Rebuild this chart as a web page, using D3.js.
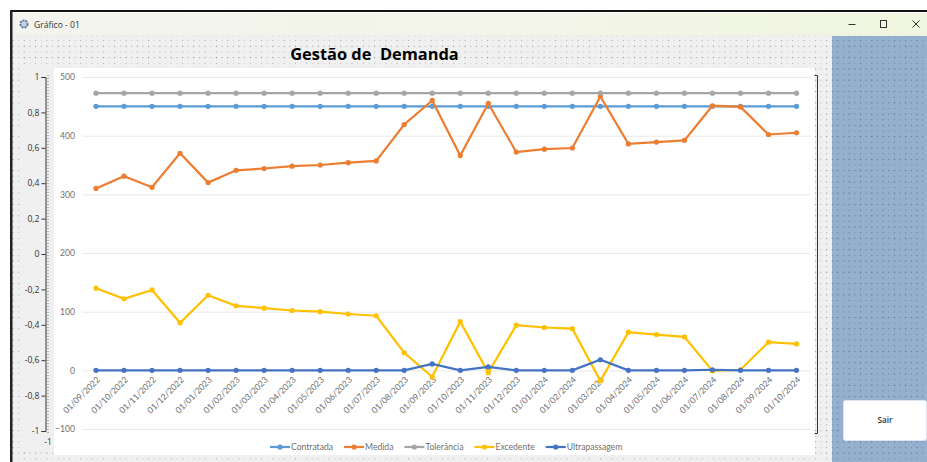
<!DOCTYPE html>
<html><head><meta charset="utf-8">
<script src="https://cdn.jsdelivr.net/npm/d3@7/dist/d3.min.js"></script>
<style>html,body{margin:0;padding:0;background:#fff;overflow:hidden}svg{display:block}text{font-family:"Open Sans",sans-serif}.lato text,text.lato{font-family:Lato,sans-serif}</style>
</head><body><svg id="c" width="927" height="462"></svg>
<script>
const categories=["01/09/2022","01/10/2022","01/11/2022","01/12/2022","01/01/2023","01/02/2023","01/03/2023","01/04/2023","01/05/2023","01/06/2023","01/07/2023","01/08/2023","01/09/2023","01/10/2023","01/11/2023","01/12/2023","01/01/2024","01/02/2024","01/03/2024","01/04/2024","01/05/2024","01/06/2024","01/07/2024","01/08/2024","01/09/2024","01/10/2024"];
const contratada=[450,450,450,450,450,450,450,450,450,450,450,450,450,450,450,450,450,450,450,450,450,450,450,450,450,450];
const medida=[310,331,312,370,320,341,344,348,350,354,357,419,460,366,455,372,377,379,467,386,389,392,451,449,402,405];
const tolerancia=[472.5,472.5,472.5,472.5,472.5,472.5,472.5,472.5,472.5,472.5,472.5,472.5,472.5,472.5,472.5,472.5,472.5,472.5,472.5,472.5,472.5,472.5,472.5,472.5,472.5,472.5];
const excedente=[140,122,137,81,128,110,106,102,100,96,93,30,-11,83,-4,77,73,71,-18,65,61,57,-1,1,48,45];
const ultrapassagem=[0,0,0,0,0,0,0,0,0,0,0,0,11,0,6,0,0,0,18,0,0,0,1,0,0,0];
const seriesNames=["Contratada","Medida","Toler\u00e2ncia","Excedente","Ultrapassagem"];
const seriesValues=[contratada,medida,tolerancia,excedente,ultrapassagem];
const seriesColors=["#5B9BD5","#ED7D31","#A5A5A5","#FFC000","#4472C4"];
const yTicks=[-100,0,100,200,300,400,500];
const leftTicks=[1,0.8,0.6,0.4,0.2,0,-0.2,-0.4,-0.6,-0.8,-1];

const svg=d3.select("#c");
const defs=svg.append("defs");
function dots(id,c1,c2,c3,bg){
  const s=5.65;
  const p=defs.append("pattern").attr("id",id).attr("patternUnits","userSpaceOnUse")
    .attr("x",1.2).attr("y",0.6).attr("width",s*2).attr("height",s*2);
  p.append("rect").attr("width",s*2).attr("height",s*2).attr("fill",bg);
  [[0,0,c1],[s,0,c2],[0,s,c2],[s,s,c3]].forEach(d=>
    p.append("rect").attr("x",d[0]).attr("y",d[1]).attr("width",1).attr("height",1).attr("fill",d[2]));
}
dots("dg","#7d7d7d","#a8a8a8","#cfcfcf","#f0f0f0");
dots("db","#4a5a70","#5f7390","#7d94b2","#95afce");
const tb=defs.append("linearGradient").attr("id","tb");
tb.append("stop").attr("offset","0").attr("stop-color","#f3f4ee");
tb.append("stop").attr("offset","0.7").attr("stop-color","#f2f5e6");
tb.append("stop").attr("offset","1").attr("stop-color","#eff5de");

// window
svg.append("rect").attr("x",12).attr("y",35).attr("width",915).attr("height",427).attr("fill","url(#dg)");
svg.append("rect").attr("x",21).attr("y",67).attr("width",33).attr("height",385).attr("fill","#f0f0f0");
svg.append("rect").attr("x",832).attr("y",36).attr("width",95).attr("height",426).attr("fill","url(#db)");
svg.append("rect").attr("x",12).attr("y",13).attr("width",915).attr("height",22.5).attr("fill","url(#tb)");
svg.append("rect").attr("x",10).attr("y",10).attr("width",917).attr("height",2).attr("fill","#111");
svg.append("rect").attr("x",10).attr("y",10).attr("width",2.5).attr("height",452).attr("fill","#222");
svg.append("circle").attr("cx",24).attr("cy",24).attr("r",3.6).attr("fill","#c4d2e8").attr("stroke","#5a6f96").attr("stroke-width",1.8).attr("stroke-dasharray","2 1");
svg.append("text").attr("x",34).attr("y",27.5).attr("font-size",8.6).attr("fill","#333").text("Gr\u00e1fico - 01");
const wb=svg.append("g").attr("stroke","#333").attr("fill","none").attr("stroke-width",1);
wb.append("path").attr("d","M848.5 24.5H855.5");
wb.append("rect").attr("x",880.5).attr("y",20.5).attr("width",6).attr("height",7);
wb.append("path").attr("d","M912.5 20.5L919.5 27.5M919.5 20.5L912.5 27.5");

// title
svg.append("text").attr("x",374.5).attr("y",59.5).attr("text-anchor","middle").attr("font-size",16.4).attr("font-weight",700).attr("fill","#000").style("white-space","pre").text("Gest\u00e3o de  Demanda");

// left designer axis
const yL=d3.scaleLinear().domain([-1,1]).range([431,77]);
const la=svg.append("g").attr("transform","translate(45.5,0)")
  .call(d3.axisLeft(yL).tickValues(leftTicks).tickSize(4).tickFormat(d=>String(d).replace(".",",")));
la.selectAll("text").attr("font-size",8.6).attr("fill","#333").attr("dx",1);
la.selectAll("line,path").attr("stroke","#333");
svg.append("line").attr("x1",48).attr("x2",48).attr("y1",75).attr("y2",434).attr("stroke","#777").attr("stroke-dasharray","1 2");
svg.append("text").attr("x",48).attr("y",445).attr("text-anchor","middle").attr("font-size",8.6).attr("fill","#333").text("-1");

// white chart area + right bracket
svg.append("rect").attr("x",54).attr("y",68).attr("width",761).attr("height",387).attr("fill","#fff");
svg.append("path").attr("d","M814.5 75.5H817.5V433.5H814.5").attr("fill","none").attr("stroke","#333");

// scales
const x=d3.scalePoint().domain(categories).range([96,796.5]);
const y=d3.scaleLinear().domain([-100,500]).range([429,77]);

// grid and axes
const ga=svg.append("g").attr("class","lato").attr("transform","translate(82,0)")
  .call(d3.axisLeft(y).tickValues(yTicks).tickSize(-729).tickPadding(7));
ga.select(".domain").remove();
ga.selectAll("line").attr("stroke","#e9e9e9");
ga.selectAll("text").attr("font-size",8.6).attr("fill","#6f6f6f");

const xa=svg.append("g").attr("class","lato").attr("transform",`translate(0,${y(0)})`)
  .call(d3.axisBottom(x).tickSize(0).tickPadding(0));
xa.select(".domain").remove();
xa.selectAll("text").attr("font-size",8.6).attr("fill","#6f6f6f")
  .attr("text-anchor","end").attr("dy",0).attr("y",0)
  .attr("transform","translate(4,10) rotate(-45)");

// series
const line=d3.line().x((d,i)=>x(categories[i])).y(d=>y(d));
seriesValues.forEach((vals,s)=>{
  const g=svg.append("g");
  g.append("path").attr("d",line(vals)).attr("fill","none").attr("stroke",seriesColors[s]).attr("stroke-width",2.2);
  g.selectAll("circle").data(vals).join("circle")
    .attr("cx",(d,i)=>x(categories[i])).attr("cy",d=>y(d)).attr("r",2.6).attr("fill",seriesColors[s]);
});

// legend
let lx=270;
seriesNames.forEach((n,s)=>{
  const g=svg.append("g").attr("class","lato").attr("transform",`translate(${lx},447)`);
  g.append("line").attr("x2",20).attr("stroke",seriesColors[s]).attr("stroke-width",2.2);
  g.append("circle").attr("cx",10).attr("r",2.6).attr("fill",seriesColors[s]);
  const t=g.append("text").attr("x",21).attr("y",3).attr("font-size",8.6).attr("fill","#6f6f6f").text(n);
  lx+=21+t.node().getComputedTextLength()+11;
});

// button
svg.append("rect").attr("x",843.5).attr("y",400.5).attr("width",83).attr("height",40).attr("rx",2).attr("fill","#fff").attr("stroke","#dfe5ee");
svg.append("text").attr("x",885).attr("y",423).attr("text-anchor","middle").attr("font-size",8.2).attr("font-weight",600).attr("fill","#333").text("Sair");
</script></body></html>
